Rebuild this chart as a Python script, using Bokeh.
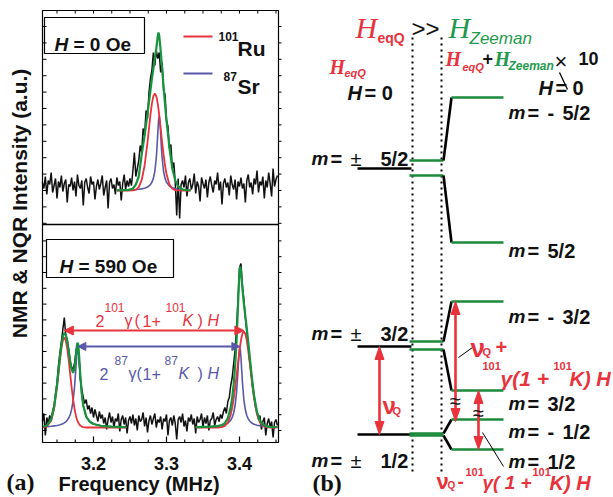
import numpy as np
from bokeh.plotting import figure
from bokeh.models import Range1d, Label, Arrow, NormalHead
from bokeh.embed import file_html
from bokeh.resources import INLINE
from bokeh.core.properties import value

# ------------------------------------------------------------------ data
freq_start = 3.130
freq_step = 0.002

# measured spectrum, H = 0 Oe (arb. units)
black_top = [8, 2, 14, -4, 10, 6, 18, -2, 5, 12, -8, 9, 3, 15, -1, 7, 11, -12, 6, 4,
             13, 0, 9, -6, 16, 5, 2, 10, -15, 8, 12, 3, -3, 14, 6, 9, -9, 4, 11, 1,
             7, 15, -5, 3, 10, -18, 8, 12, 2, 6, -4, 13, 5, 9, -10, 7, 16, 1, 10, 4,
             12, 5, 20, 38, 14, 22, 30, 45, 38, 62, 55, 80, 72, 98, 112, 120, 138, 125, 140, 132,
             138, 118, 128, 100, 96, 70, 64, 42, 46, 22, 28, 8, -25, 12, -28, 6,
             10, 3, 15, -6, 8, 12, 1, 6, 17, -3, 9, 4, -11, 13, 7, 2, 11, -7, 8, 14,
             5, -2, 10, 6, 18, 0, 9, -14, 7, 12, 3, 8, -5, 15, 6, 1, 11, -9, 9, 4,
             13, 2, 7, -12, 10, 16, 3, 8, -4, 12, 6, 20, -2, 9, 5, 14, -8, 10, 3, 18, 7, -6, 22, 4, 11, 15]

# measured spectrum, H = 590 Oe
black_bot = [6, 14, -8, 10, 4, 12, 8, 16, 22, 34, 45, 62, 75, 86, 98, 110, 92, 88, 78, 66,
             60, 58, 64, 76, 84, 70, 48, 38, 30, 24, 28, 18, 22, 14, 20, 10, 18, 12, 6, 16, 9,
             13, 4, 10, -2, 8, 15, 5, 11, 0, 9, 6, 14, -4, 8, 12, 3, 10, -6, 7, 11,
             4, 13, 2, 9, -3, 12, 6, 8, 15, 1, 10, -5, 7, 12, 3, 9, 14, 0, 8, 5,
             11, -2, 9, 6, 13, -8, 7, 10, 2, 12, 4, -12, 8, 11, 5, 14, 1, 7, -4, 10,
             6, 13, 3, 9, -6, 11, 5, 8, 14, 0, 10, 4, 12, -3, 7, 9, 15, 2, 8, 11, 6, 13, 9, 16,
             20, 14, 26, 30, 42, 50, 64, 78, 100, 128, 160, 164, 142, 128, 110, 96, 82, 66, 55, 40,
             32, 20, 16, 8, 12, -2, 6, 10, -8, 4, 9, 0, 6, -10, 5, 8, 2]

# fits, H = 0 Oe
fit_x_top = [3.232, 3.240, 3.248, 3.254, 3.258, 3.262, 3.266, 3.270, 3.274, 3.278, 3.280,
             3.282, 3.284, 3.286, 3.287, 3.288, 3.289, 3.290, 3.291, 3.292, 3.293, 3.294,
             3.296, 3.298, 3.300, 3.304, 3.308, 3.312, 3.316, 3.322, 3.333]
red_top = [0, 0, 0, 0.2, 0.9, 3.4, 10.3, 25, 48.5, 75.6, 86.8, 94.4, 97, 94.4, 91.1, 86.8,
           81.6, 75.6, 69.1, 62.3, 55.4, 48.5, 35.8, 25, 16.5, 6.1, 1.8, 0.4, 0.1, 0, 0]
blue_top = [0.3, 0.4, 0.5, 0.7, 0.9, 1.2, 1.6, 2.2, 3.4, 5.9, 8.2, 12.1, 19.0, 32.5, 43.2,
            56.5, 69.3, 75, 69.3, 56.5, 43.2, 32.5, 19.0, 12.1, 8.2, 4.4, 2.7, 1.9, 1.3, 0.9, 0.5]
green_top = [0, 0.3, 0.6, 2, 6, 14, 36, 55, 77, 100, 112, 122, 132, 142, 148, 154, 158,
             155, 148, 140, 131, 122, 104, 86, 70, 43, 22, 10, 4, 1, 0]

# fits, H = 590 Oe (low-frequency pair)
fit_x_bl = [3.130, 3.136, 3.142, 3.146, 3.150, 3.152, 3.154, 3.156, 3.158, 3.160, 3.162,
            3.164, 3.166, 3.168, 3.170, 3.172, 3.174, 3.176, 3.177, 3.178, 3.179, 3.180,
            3.182, 3.184, 3.186, 3.190, 3.195, 3.200, 3.210, 3.225, 3.245]
red_bl = [0.1, 0.9, 6.8, 18.8, 40.4, 53.9, 67.5, 79.2, 87.2, 90, 87.2, 79.2, 67.5, 53.9,
          40.4, 28.4, 18.8, 11.6, 8.9, 6.8, 5.0, 3.7, 1.9, 0.9, 0.4, 0, 0, 0, 0, 0, 0]
blue_bl = [0.7, 0.9, 1.2, 1.6, 2.0, 2.3, 2.7, 3.2, 3.8, 4.6, 5.7, 7.2, 9.4, 12.7, 17.9,
           26.3, 40.4, 61, 71.4, 78.1, 78.1, 71.4, 50, 32.5, 21.6, 10.9, 5.7, 3.5, 1.7, 0.8, 0.4]
green_bl = [0.8, 1.8, 8.0, 20.4, 42.4, 56.2, 70.2, 82.4, 91.0, 94.6, 92.9, 86.4, 76.9, 66.6,
            58.3, 54.7, 59.2, 72.6, 80.3, 84.9, 83.1, 75.1, 51.9, 33.4, 22.0, 10.9, 5.7, 3.5,
            1.7, 0.8, 0.4]

# fits, H = 590 Oe (high-frequency pair)
fit_x_br = [3.340, 3.360, 3.370, 3.376, 3.380, 3.384, 3.388, 3.390, 3.392, 3.394, 3.396,
            3.398, 3.399, 3.400, 3.401, 3.402, 3.403, 3.404, 3.406, 3.408, 3.410, 3.412,
            3.414, 3.416, 3.418, 3.420, 3.424, 3.428, 3.434, 3.442, 3.452]
red_br = [0, 0, 0, 0.4, 1.5, 4.8, 13.0, 19.8, 28.6, 39.5, 51.8, 64.7, 71, 76.9, 82.3, 87,
          90.8, 93.7, 96, 93.7, 87, 76.9, 64.7, 51.8, 39.5, 28.6, 13.0, 4.8, 0.8, 0, 0]
blue_br = [0.4, 0.8, 1.4, 2.1, 2.9, 4.4, 7.4, 10.1, 14.5, 22, 35.3, 57.5, 70.2, 78.8, 78.8,
           70.2, 57.5, 45.3, 27.7, 17.7, 12.0, 8.6, 6.5, 5.0, 4.0, 3.2, 2.3, 1.7, 1.1, 0.7, 0.5]
green_br = [0.4, 0.8, 1.4, 2.5, 4.4, 9.2, 20.4, 29.9, 43.1, 61.5, 87.1, 122.2, 141.2, 155.7,
            161.1, 157.2, 148.3, 139.0, 123.7, 111.4, 99.0, 85.5, 71.2, 56.8, 43.5, 31.8,
            15.3, 6.5, 1.9, 0.7, 0.5]

ru_peaks = [3.160, 3.406]     # 101Ru lines at H = 590 Oe
sr_peaks = [3.1785, 3.4005]   # 87Sr lines at H = 590 Oe

x_major = [3.2, 3.3, 3.4]
x_labels = ["3.2", "3.3", "3.4"]
x_minor = [3.15, 3.175, 3.225, 3.25, 3.275, 3.325, 3.35, 3.375, 3.425, 3.45]
y_ticks_top = [16.4 * k for k in range(-2, 11)]        # intensity ticks, H = 0 panel
y_ticks_bot = [-3 + 15.8 * k for k in range(0, 13)]    # intensity ticks, H = 590 panel

# energy-level diagram (vertical position of each level, picture units)
lev_h0_name = ["5/2", "3/2", "1/2"]
lev_h0_y = [168, 346, 434]
lev_mid_y = [160, 175, 341, 349, 433, 435]
lev_z_sign = ["-", "", "-", "", "-", ""]
lev_z_frac = ["5/2", "5/2", "3/2", "3/2", "1/2", "1/2"]
lev_z_y = [97, 242, 301, 390, 419, 449]

# ------------------------------------------------------------------ style
SANS = "Liberation Sans"
SERIF = "Liberation Serif"
RED = "#e8323c"
BLUE = "#5858a8"
GREEN = "#15933d"
LGREEN = "#1b8a3b"
TGREEN = "#1f9a4c"
BLACK = "#111111"
W, H = 612, 496

# panel (a) frame in picture units
FL, FR, FT, FM, FB = 42, 278, 10, 224, 442

p = figure(width=W, height=H, x_range=Range1d(0, W), y_range=Range1d(H, 0),
           output_backend="svg", toolbar_location=None, title=None,
           x_axis_location=None, y_axis_location=None, min_border=0)
p.grid.visible = False
p.outline_line_color = None
p.background_fill_color = "white"
p.border_fill_color = "white"

# frequency scale and the two intensity scales of panel (a)
p.extra_x_ranges = {"f": Range1d(3.2 - 93.0 / 730.0, 3.2 + (W - 93.0) / 730.0)}
p.extra_y_ranges = {"top": Range1d(190 - H, 190), "bot": Range1d(427 - H, 427)}


def lab(x, y, text, size, style="bold", color=BLACK, font=SANS,
        align="left", baseline="alphabetic", angle=0.0):
    p.add_layout(Label(x=x, y=y, text=text, text_font=font, text_font_size=f"{size}px",
                       text_font_style=style, text_color=color, text_align=align,
                       text_baseline=baseline, angle=angle))


# ---------------------------------------------------------------- panel (a)
xs_top = [freq_start + freq_step * i for i in range(len(black_top))]
xs_bot = [freq_start + freq_step * i for i in range(len(black_bot))]

p.line(xs_top, black_top, x_range_name="f", y_range_name="top", line_color=BLACK, line_width=1.5)
p.line(fit_x_top, blue_top, x_range_name="f", y_range_name="top", line_color=BLUE, line_width=1.6)
p.line(fit_x_top, red_top, x_range_name="f", y_range_name="top", line_color=RED, line_width=1.8)
p.line(fit_x_top, green_top, x_range_name="f", y_range_name="top", line_color=GREEN, line_width=2.2)

p.line(xs_bot, black_bot, x_range_name="f", y_range_name="bot", line_color=BLACK, line_width=1.5)
for fx, r, b, g in [(fit_x_bl, red_bl, blue_bl, green_bl), (fit_x_br, red_br, blue_br, green_br)]:
    p.line(fx, b, x_range_name="f", y_range_name="bot", line_color=BLUE, line_width=1.6)
    p.line(fx, r, x_range_name="f", y_range_name="bot", line_color=RED, line_width=1.8)
    p.line(fx, g, x_range_name="f", y_range_name="bot", line_color=GREEN, line_width=2.2)

# frame and separator
p.quad(left=[FL], right=[FR], top=[FT], bottom=[FB], fill_color=None,
       line_color="black", line_width=1.2)
p.segment(x0=[FL], y0=[FM], x1=[FR], y1=[FM], line_color="black", line_width=1.4)

# axis ticks (frequency scale)
p.segment(x0=x_major, y0=[FB] * 3, x1=x_major, y1=[FB - 6] * 3, x_range_name="f",
          line_color="black", line_width=1.2)
p.segment(x0=x_minor, y0=[FB] * len(x_minor), x1=x_minor, y1=[FB - 3] * len(x_minor),
          x_range_name="f", line_color="black", line_width=1.1)
allx = x_major + x_minor
p.segment(x0=allx, y0=[FT] * len(allx), x1=allx, y1=[FT + 3] * len(allx),
          x_range_name="f", line_color="black", line_width=1)
p.text(x=x_major, y=[463] * 3, text=x_labels, x_range_name="f", text_font=value(SANS),
       text_font_size="18px", text_font_style="bold", text_color=BLACK,
       text_align="center", text_baseline="alphabetic")

# intensity ticks
for rng, ticks in (("top", y_ticks_top), ("bot", y_ticks_bot)):
    n = len(ticks)
    p.segment(x0=[FL] * n, y0=ticks, x1=[FL + 4] * n, y1=ticks, y_range_name=rng,
              line_color="black", line_width=1)
    p.segment(x0=[FR] * n, y0=ticks, x1=[FR + 3] * n, y1=ticks, y_range_name=rng,
              line_color="black", line_width=1)

# legend
p.segment(x0=[183, 183], y0=[36, 73], x1=[212, 212], y1=[36, 73],
          line_color=[RED, BLUE], line_width=2)
lab(218, 36, "101", 12)
lab(237, 48, "Ru", 21)
lab(223, 76, "87", 12)
lab(237, 86, "Sr", 21)

# field boxes
p.quad(left=[44, 46], right=[144, 173], top=[17, 239], bottom=[53, 277],
       fill_color=None, line_color="black", line_width=1.2)
lab(54, 44, "H", 19, style="bold italic")
lab(73, 44, "= 0 Oe", 19)
lab(59, 266, "H", 19, style="bold italic")
lab(78, 266, "= 590 Oe", 19)

# splitting arrows
p.add_layout(Arrow(x_start=ru_peaks[0], y_start=97, x_end=ru_peaks[1], y_end=97,
                   x_range_name="f", y_range_name="bot", line_color=RED, line_width=2,
                   start=NormalHead(size=9, fill_color=RED, line_color=RED),
                   end=NormalHead(size=9, fill_color=RED, line_color=RED)))
p.add_layout(Arrow(x_start=sr_peaks[0], y_start=81, x_end=sr_peaks[1], y_end=81,
                   x_range_name="f", y_range_name="bot", line_color=BLUE, line_width=2,
                   start=NormalHead(size=8, fill_color=BLUE, line_color=BLUE),
                   end=NormalHead(size=8, fill_color=BLUE, line_color=BLUE)))

for runs, base, sup_base, col in [
    ([(95, "2", "n"), (104, "101", "s"), (124, "γ", "n"), (134, "(", "n"), (142, "1", "n"),
      (151, "+", "n"), (165, "101", "s"), (182, "K", "i"), (197, ")", "n"), (207, "H", "i")],
     320, 307, RED),
    ([(99, "2", "n"), (114, "87", "s"), (128, "γ", "n"), (136, "(", "n"), (142, "1", "n"),
      (151, "+", "n"), (164, "87", "s"), (178, "K", "i"), (197, ")", "n"), (207, "H", "i")],
     373, 360, BLUE)]:
    for px, s, kind in runs:
        if kind == "s":
            lab(px, sup_base, s, 12, style="normal", color=col)
        else:
            lab(px, base, s, 16, style="italic" if kind == "i" else "normal", color=col)

lab(19, 200, "NMR & NQR Intensity  (a.u.)", 21, align="center", baseline="middle",
    angle=np.pi / 2)
lab(58, 483, "Frequency (MHz)", 20)
lab(6, 481, "(a)", 24, font=SERIF)

# ---------------------------------------------------------------- panel (b)
p.segment(x0=[412, 441], y0=[37, 37], x1=[412, 441], y1=[472, 472],
          line_color="black", line_width=2, line_dash="2 4")

n0, n1 = len(lev_h0_y), len(lev_z_y)
p.segment(x0=[357] * n0, y0=lev_h0_y, x1=[411] * n0, y1=lev_h0_y, line_color="black", line_width=2.6)
p.segment(x0=[409] * n1, y0=lev_mid_y, x1=[443] * n1, y1=lev_mid_y, line_color=LGREEN, line_width=2.6)
p.segment(x0=[443] * n1, y0=lev_mid_y, x1=[451] * n1, y1=lev_z_y, line_color="black", line_width=2.6)
p.segment(x0=[451] * n1, y0=lev_z_y, x1=[503] * n1, y1=lev_z_y, line_color=LGREEN, line_width=2.6)


def red_arrow(x, ya, yb):
    hl, hw = 13, 4.5
    p.segment(x0=[x], y0=[ya + hl - 1], x1=[x], y1=[yb - hl + 1], line_color=RED, line_width=2.6)
    p.patches(xs=[[x, x - hw, x + hw], [x, x - hw, x + hw]],
              ys=[[ya, ya + hl, ya + hl], [yb, yb - hl, yb - hl]],
              fill_color=RED, line_color=RED, line_width=1)


red_arrow(379, lev_h0_y[1], lev_h0_y[2])
red_arrow(455, lev_z_y[2], lev_z_y[4] + 2)
red_arrow(478, lev_z_y[3], lev_z_y[5])

lab(455, 400, "≈", 20, style="normal", align="center", baseline="middle")
lab(478, 412, "≈", 20, style="normal", align="center", baseline="middle")

# leader lines
p.segment(x0=[458, 482], y0=[357, 432], x1=[472, 503], y1=[347, 466],
          line_color="black", line_width=1)

# level labels
for nm, by in zip(lev_h0_name, [158, 333, 460]):
    lab(311, by, "m", 19, style="bold italic")
    lab(330, by, "=", 20)
    lab(350, by, "±", 20, style="normal")
    lab(380, by, nm, 20)
for sg, fr, by in zip(lev_z_sign, lev_z_frac, [112, 250, 316, 403, 431, 461]):
    lab(508, by, "m", 19, style="bold italic")
    lab(527, by, "=", 20)
    if sg:
        lab(547, by, sg, 20)
        lab(562, by, fr, 20)
    else:
        lab(547, by, fr, 20)

# headers
lab(355, 27, "H", 30, style="italic", color=RED, font=SERIF)
lab(377, 37, "eqQ", 14, color=RED)
lab(411, 28, ">>", 24, style="normal")
lab(448, 27, "H", 30, style="italic", color=TGREEN, font=SERIF)
lab(469, 38, "Zeeman", 17, style="italic", color=TGREEN)

lab(445, 58, "H", 20, style="bold italic", color=RED, font=SERIF)
lab(462, 66, "eqQ", 11, style="bold italic", color=RED)
lab(482, 58, "+", 18)
lab(494, 58, "H", 20, style="bold italic", color=TGREEN, font=SERIF)
lab(508, 65, "Zeeman", 12, style="bold italic", color=TGREEN)
lab(554, 61, "×", 22, style="normal")
lab(578, 58, "10", 18)

lab(538, 87, "H", 20, style="bold italic")
lab(555, 87, "=", 20)
lab(572, 87, "0", 20)
p.segment(x0=[559], y0=[72], x1=[567], y1=[89], line_color="black", line_width=1.3)

lab(329, 66, "H", 20, style="bold italic", color=RED, font=SERIF)
lab(344, 72, "eqQ", 11, style="bold italic", color=RED)
lab(347, 92, "H", 20, style="bold italic")
lab(364, 92, "= 0", 20)

# transition labels
lab(382, 405, "ν", 24, color=RED)
lab(392, 410, "Q", 11, color=RED)

lab(470, 347, "ν", 26, color=RED)
lab(482, 351, "Q", 11, color=RED)
lab(495, 346, "+", 20, color=RED)
lab(482, 365, "101", 11, color=RED)
lab(500, 378, "γ(1 +", 21, style="bold italic", color=RED)
lab(553, 365, "101", 11, color=RED)
lab(569, 378, "K) H", 20, style="bold italic", color=RED)

lab(436, 481, "ν", 22, color=RED)
lab(447, 485, "Q", 10, color=RED)
lab(457, 481, "-", 19, color=RED)
lab(465, 471, "101", 11, color=RED)
lab(482, 482, "γ( 1 +", 19, style="bold italic", color=RED)
lab(532, 471, "101", 11, color=RED)
lab(549, 482, "K) H", 20, style="bold italic", color=RED)

lab(312, 482, "(b)", 24, font=SERIF)

open("out.html", "w").write(file_html(p, INLINE))
